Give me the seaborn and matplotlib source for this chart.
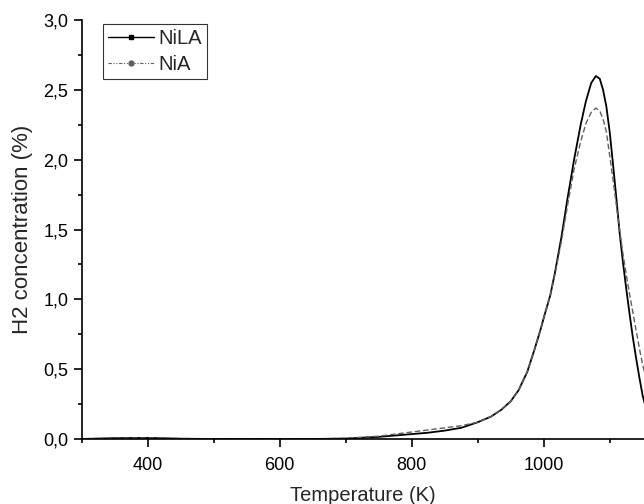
import matplotlib
matplotlib.use("Agg")
import matplotlib.pyplot as plt
import seaborn as sns
import numpy as np
from matplotlib.lines import Line2D
from matplotlib.ticker import MultipleLocator, FuncFormatter

temperature = [300, 350, 400, 450, 500, 550, 600, 650, 700, 750, 775, 800, 825, 850, 875,
               900, 920, 936, 950, 962, 975, 986, 995, 1002, 1010, 1017, 1027, 1036, 1046,
               1056, 1064, 1072, 1079, 1085, 1090, 1095, 1100, 1105, 1110, 1115, 1120, 1125,
               1130, 1135, 1140, 1145, 1150, 1155]

nila = [0.0, 0.006, 0.008, 0.002, 0.0, 0.0, 0.0, 0.0, 0.003, 0.015, 0.025, 0.035, 0.045, 0.06, 0.08,
        0.12, 0.16, 0.21, 0.27, 0.35, 0.48, 0.64, 0.78, 0.90, 1.03, 1.19, 1.45, 1.72, 2.00,
        2.25, 2.42, 2.55, 2.60, 2.58, 2.50, 2.38, 2.20, 1.97, 1.73, 1.48, 1.27, 1.08,
        0.90, 0.73, 0.58, 0.44, 0.31, 0.22]

nia = [0.0, 0.005, 0.008, 0.003, 0.0, 0.0, 0.0, 0.0, 0.005, 0.02, 0.035, 0.05, 0.065, 0.08, 0.095,
       0.12, 0.16, 0.21, 0.27, 0.35, 0.48, 0.64, 0.78, 0.90, 1.03, 1.18, 1.42, 1.67, 1.93,
       2.13, 2.26, 2.34, 2.37, 2.35, 2.29, 2.20, 2.03, 1.86, 1.68, 1.50, 1.33, 1.18,
       1.04, 0.91, 0.78, 0.65, 0.53, 0.44]

series_labels = ["NiLA", "NiA"]

sns.set_theme(style="ticks")
plt.rcParams['font.family'] = ['Liberation Sans', 'DejaVu Sans']

fig = plt.figure(figsize=(6.44, 5.04), dpi=100)
ax = fig.add_axes([0.127, 0.129, 0.873, 0.831])

sns.lineplot(x=temperature, y=nila, ax=ax, color="black", linewidth=1.3, sort=True,
             estimator=None)
sns.lineplot(x=temperature, y=nia, ax=ax, color="#606060", linewidth=1.0, sort=True,
             estimator=None, linestyle=(0, (4, 2)))

ax.set_xlim(300, 1152)
ax.set_ylim(0, 3.0)

ax.xaxis.set_major_locator(MultipleLocator(200))
ax.xaxis.set_minor_locator(MultipleLocator(100))
ax.yaxis.set_major_locator(MultipleLocator(0.5))
ax.yaxis.set_minor_locator(MultipleLocator(0.25))
ax.yaxis.set_major_formatter(FuncFormatter(lambda v, p: f"{v:.1f}".replace(".", ",")))

for s in ["top", "right"]:
    ax.spines[s].set_visible(False)
for s in ["left", "bottom"]:
    ax.spines[s].set_linewidth(1.2)
    ax.spines[s].set_color("black")

ax.tick_params(axis="both", which="major", direction="out", length=5.8, width=1.2,
               labelsize=13, colors="black")
ax.tick_params(axis="x", which="major", pad=7)
ax.tick_params(axis="y", which="major", pad=4)
ax.tick_params(axis="both", which="minor", direction="out", length=3, width=1.2, colors="black")

ax.set_xlabel("Temperature (K)", fontsize=14.5, labelpad=9)
ax.set_ylabel("H2 concentration (%)", fontsize=16, labelpad=7)

handles = [
    Line2D([], [], color="black", linewidth=1.0, marker="s", markersize=3.5),
    Line2D([], [], color="#606060", linewidth=0.8, linestyle=(0, (3, 1.5, 1, 1.5, 1, 1.5)),
           marker="o", markersize=3.5),
]
leg = ax.legend(handles, series_labels, loc="upper left", bbox_to_anchor=(0.037, 0.99),
                borderaxespad=0, fontsize=14.5, frameon=True, fancybox=False,
                handlelength=2.3, handletextpad=0.2, labelspacing=0.35, borderpad=0.25)
leg.get_frame().set_edgecolor("black")
leg.get_frame().set_linewidth(0.8)

fig.savefig("out.png", dpi=100)
